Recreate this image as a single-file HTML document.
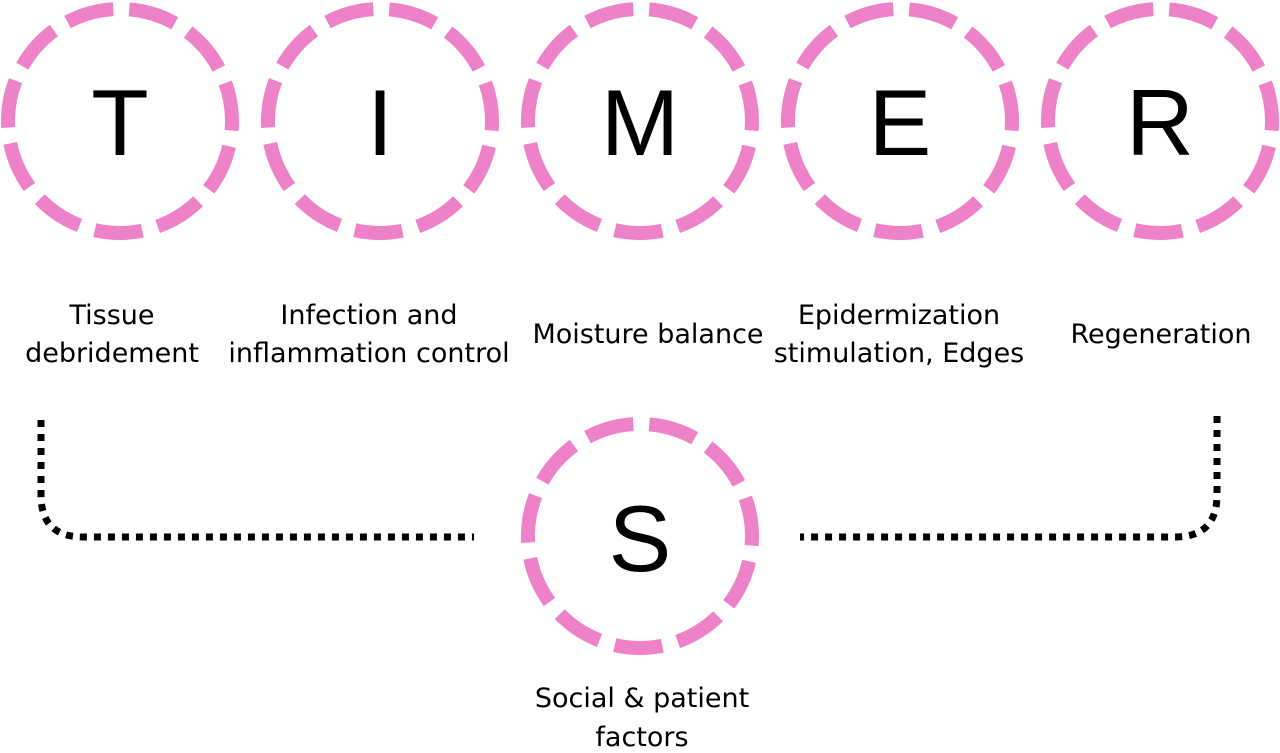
<!DOCTYPE html>
<html><head><style>body{margin:0;background:#fff}</style></head><body>
<svg width="1280" height="748" xmlns="http://www.w3.org/2000/svg">
<g fill="none" stroke="#ee82c8" stroke-width="14" stroke-dasharray="0.75 0.25" stroke-dashoffset="0.6">
<circle cx="120" cy="121" r="112" pathLength="11"/>
<circle cx="380" cy="121" r="112" pathLength="11"/>
<circle cx="640" cy="121" r="112" pathLength="11"/>
<circle cx="900" cy="121" r="112" pathLength="11"/>
<circle cx="1160" cy="121" r="112" pathLength="11"/>
<circle cx="640" cy="536" r="112" pathLength="11"/>
</g>
<g font-family="Liberation Sans, sans-serif" font-size="94" text-anchor="middle" fill="#000">
<text x="120" y="155">T</text><text x="380" y="155">I</text><text x="640" y="155">M</text>
<text x="900" y="155">E</text><text x="1160" y="155">R</text><text x="640" y="571">S</text>
</g>
<g font-family="DejaVu Sans, Verdana, sans-serif" font-size="27" text-anchor="middle" fill="#000">
<text x="112" y="324">Tissue</text><text x="112" y="362">debridement</text>
<text x="369" y="324">Infection and</text><text x="369" y="362">inflammation control</text>
<text x="648" y="343">Moisture balance</text>
<text x="899" y="324">Epidermization</text><text x="899" y="362">stimulation, Edges</text>
<text x="1161" y="343">Regeneration</text>
<text x="642" y="707">Social &amp; patient</text><text x="642" y="746">factors</text>
</g>
<g fill="none" stroke="#000" stroke-width="7" stroke-dasharray="7 7">
<path d="M41 420 V495 Q41 537 83 537 H474"/>
<path d="M1217 416 V495 Q1217 537 1175 537 H800"/>
</g>
</svg>
</body></html>
